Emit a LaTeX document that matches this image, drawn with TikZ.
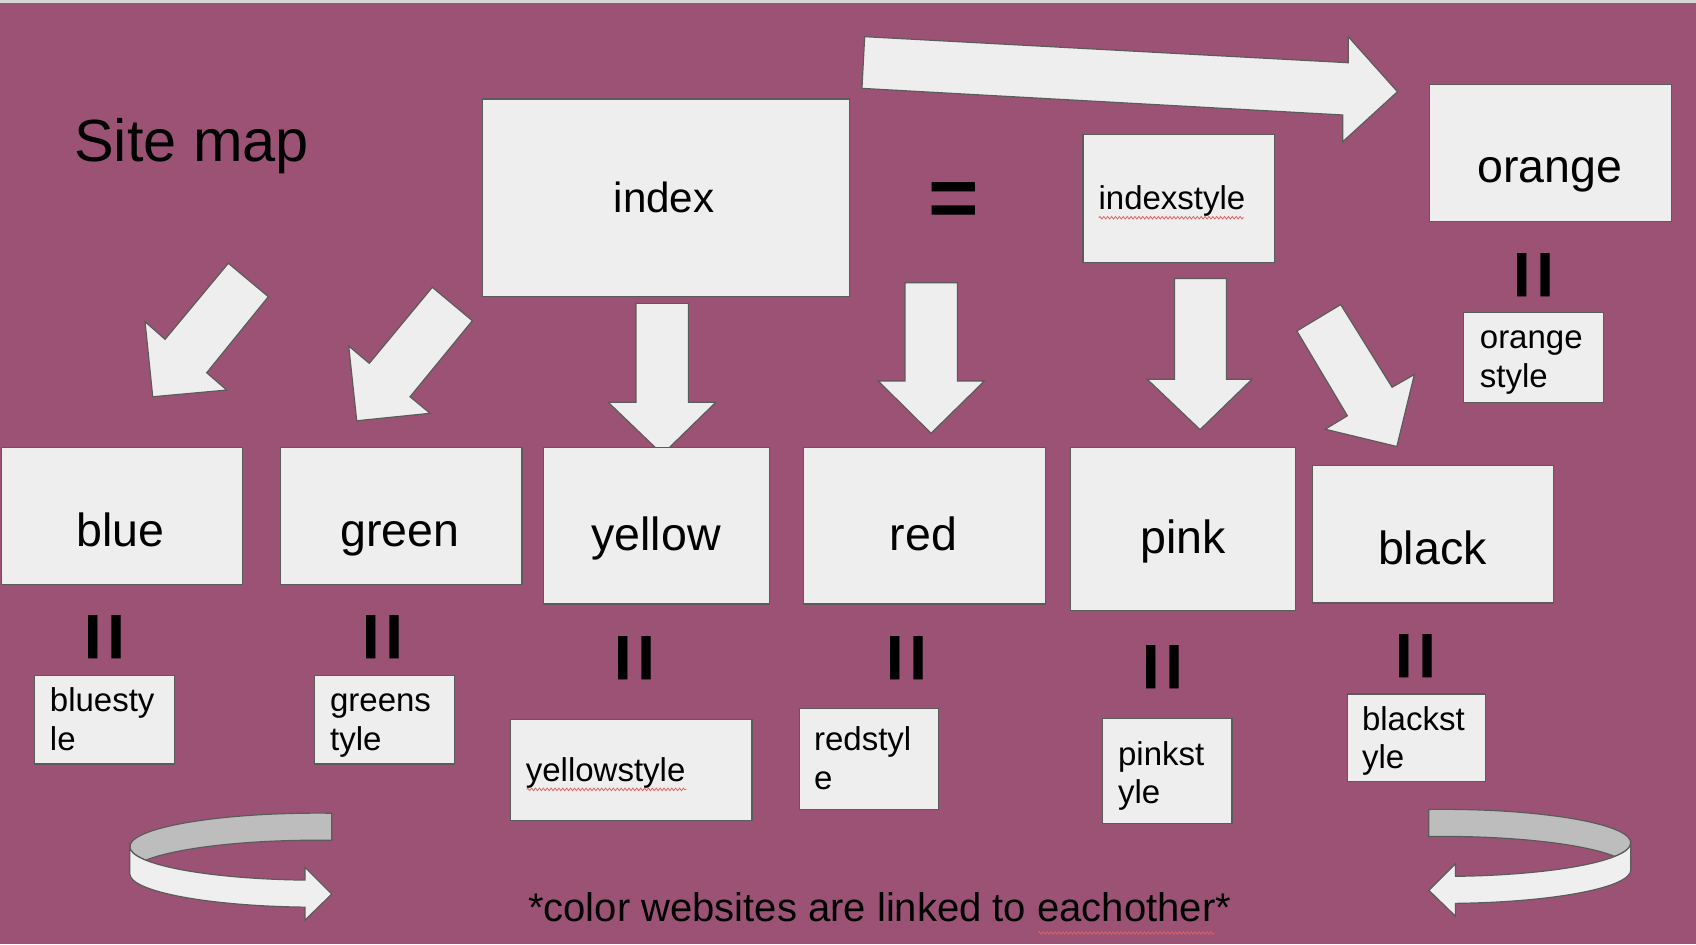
\documentclass[tikz,border=0pt]{standalone}
\usepackage{fontspec}
\setmainfont{Liberation Sans}
\usetikzlibrary{decorations.pathmorphing}
\definecolor{bg}{HTML}{9C5275}
\definecolor{boxfill}{HTML}{EEEEEE}
\definecolor{edge}{HTML}{5B5B5B}
\definecolor{ringbackc}{HTML}{BDBDBD}
\definecolor{ringfrontc}{HTML}{EFEFEF}
\definecolor{topstrip}{HTML}{D6D6D6}
\definecolor{spell}{HTML}{E06060}
\newcommand\myringarrow{%
  \draw[ringback] (12.74,-30.92) arc[start angle=274.2, end angle=156.2, x radius=174, y radius=31]
     arc[start angle=203.8, end angle=274.2, x radius=174, y radius=31] -- cycle;
  \draw[ringfront] (-174,0) arc[start angle=180, end angle=93.95, x radius=174, y radius=31]
     -- (-12,19.2) -- (12.7,43.85) -- (-12,67.85) -- (-12,55.93)
     arc[start angle=93.95, end angle=180, x radius=174, y radius=31] -- cycle;}
\begin{document}
\begin{tikzpicture}[x=1pt,y=-1pt,
  box/.style={draw=edge, fill=boxfill, line width=1.1pt, inner sep=0pt, anchor=north west},
  big/.style={font=\fontsize{43}{43}\selectfont, inner sep=0pt, anchor=base},
  small/.style={font=\fontsize{30.5}{35.5}\selectfont, inner sep=0pt, anchor=base west},
  eqsign/.style={font=\fontsize{80}{80}\selectfont\bfseries, inner sep=0pt, anchor=north},
  blockarrow/.style={draw=edge, fill=boxfill, line width=1.1pt, line join=miter},
  ringback/.style={draw=edge, fill=ringbackc, line width=1.1pt},
  ringfront/.style={draw=edge, fill=ringfrontc, line width=1.1pt},
  spellmark/.style={draw=spell, line width=0.7pt, decorate, decoration={zigzag, amplitude=1.2pt, segment length=3.6pt}},
]
\useasboundingbox (0,0) rectangle (1568,873);
\fill[bg] (0,0) rectangle (1568,873);
\fill[topstrip] (0,0) rectangle (1568,2.5);

% title
\node[font=\fontsize{55}{55}\selectfont, inner sep=0pt, anchor=base west] (title) at (68.5,149.5) {Site map};

% block arrows
\draw[blockarrow] (799.4,33.9) -- (1246.5,58) -- (1246.5,33.9) -- (1292,84.8) -- (1241.4,131) -- (1241.4,106.3) -- (796.9,81.7) -- cycle;
\draw[blockarrow] (211.1,243.4) -- (248.1,274.3) -- (191.1,344.6) -- (209.6,360.6) -- (141.2,366.8) -- (134.1,297.4) -- (152.6,313.7) -- cycle;
\draw[blockarrow] (399.7,265.6) -- (436.7,296.5) -- (379.1,366.8) -- (397.6,382.1) -- (329.8,389) -- (322.4,319.9) -- (341.4,335.9) -- cycle;
\draw[blockarrow] (588,280.5) -- (636.4,280.5) -- (636.4,372) -- (661.7,372) -- (612.4,420) -- (562.4,372) -- (588,372) -- cycle;
\draw[blockarrow] (836.7,261.4) -- (885.1,261.4) -- (885.1,352.3) -- (910,352.3) -- (860.8,400.6) -- (812,352.3) -- (836.7,352.3) -- cycle;
\draw[blockarrow] (1085.8,257.5) -- (1133.8,257.5) -- (1133.8,350.6) -- (1157.5,350.6) -- (1109.5,397.2) -- (1060.6,350.6) -- (1085.8,350.6) -- cycle;
\draw[blockarrow] (1199,306) -- (1239.5,281.6) -- (1287,358) -- (1307.6,346.3) -- (1291.4,412.8) -- (1225.2,396.8) -- (1245.7,384.4) -- cycle;

% main boxes
\node[box, minimum width=339.3, minimum height=182.5] (index) at (445.9,90.9) {};
\node[box, minimum width=223.4, minimum height=126.6] (orange) at (1321.2,77.7) {};
\node[box, minimum width=177.2, minimum height=118] (indexstyle) at (1000.7,123.9) {};
\node[box, minimum width=129.5, minimum height=82.5] (orangestyle) at (1352.4,288.7) {};
\node[box, minimum width=223, minimum height=127] (blue) at (0.5,413) {};
\node[box, minimum width=223.6, minimum height=127] (green) at (258.5,413) {};
\node[box, minimum width=208.8, minimum height=144.8] (yellow) at (502.2,413) {};
\node[box, minimum width=223.3, minimum height=144.8] (red) at (742.5,413) {};
\node[box, minimum width=207.5, minimum height=150] (pink) at (989.5,413.5) {};
\node[box, minimum width=223.1, minimum height=127] (black) at (1212.6,429.9) {};
\node[box, minimum width=129.4, minimum height=81.6] (bluestyle) at (31.4,624.1) {};
\node[box, minimum width=129.5, minimum height=81.6] (greenstyle) at (289.9,624.1) {};
\node[box, minimum width=223.6, minimum height=93] (yellowstyle) at (471.1,665) {};
\node[box, minimum width=129.1, minimum height=93.4] (redstyle) at (738.3,654.3) {};
\node[box, minimum width=119.5, minimum height=97] (pinkstyle) at (1019,664) {};
\node[box, minimum width=127.5, minimum height=81] (blackstyle) at (1245,641) {};

% labels
\node[big, font=\fontsize{39}{39}\selectfont] (index-t) at (614,196.7) {index};
\node[big] (orange-t) at (1432.8,168.9) {orange};
\node[big] (blue-t) at (111.4,504.8) {blue};
\node[big] (green-t) at (369.9,504.8) {green};
\node[big] (yellow-t) at (606.6,509.1) {yellow};
\node[big] (red-t) at (853.7,509.1) {red};
\node[big] (pink-t) at (1094,511.7) {pink};
\node[big] (black-t) at (1324.2,521.6) {black};

\node[small] (indexstyle-t) at (1015.5,193.5) {indexstyle};
\node[small] (orangestyle-t) at (1368,322.5) {\vtop{\hbox{orange}\hbox{style}}};
\node[small] (bluestyle-t) at (46,658) {\vtop{\hbox{bluesty}\hbox{le}}};
\node[small] (greenstyle-t) at (305,658) {\vtop{\hbox{greens}\hbox{tyle}}};
\node[small] (yellowstyle-t) at (486,722.7) {yellowstyle};
\node[small] (redstyle-t) at (752.5,694) {\vtop{\hbox{redstyl}\hbox{e}}};
\node[small] (pinkstyle-t) at (1033.5,707.3) {\vtop{\hbox{pinkst}\hbox{yle}}};
\node[small] (blackstyle-t) at (1259,675.3) {\vtop{\hbox{blackst}\hbox{yle}}};

% equal signs
\node[eqsign] (eq-index) at (882.2,168.8) {=};
\node[eqsign, rotate=90] (eq-blue) at (81.4,589.1) {=};
\node[eqsign, rotate=90] (eq-green) at (339,589.1) {=};
\node[eqsign, rotate=90] (eq-yellow) at (572,609) {=};
\node[eqsign, rotate=90] (eq-red) at (823.4,609) {=};
\node[eqsign, rotate=90] (eq-pink) at (1059.3,616.6) {=};
\node[eqsign, rotate=90] (eq-black) at (1293.6,606.8) {=};
\node[eqsign, rotate=90] (eq-orange) at (1402.4,254.4) {=};

% spelling marks
\coordinate (sp1a) at (1016,201.3); \coordinate (sp1b) at (1150,201.3);
\coordinate (sp2a) at (487,729.8); \coordinate (sp2b) at (634.5,729.8);
\coordinate (sp3a) at (960,862.5); \coordinate (sp3b) at (1123,862.5);
\draw[spellmark] (sp1a) -- (sp1b);
\draw[spellmark] (sp2a) -- (sp2b);
\draw[spellmark] (sp3a) -- (sp3b);

% ring arrows
\begin{scope}[shift={(294,782.75)}]
  \myringarrow
\end{scope}
\begin{scope}[shift={(1333.7,779.25)}, xscale=-1]
  \myringarrow
\end{scope}

% footer
\node[font=\fontsize{37}{37}\selectfont, inner sep=0pt, anchor=base west] (footer) at (488,852) {*color websites are linked to eachother*};
\end{tikzpicture}
\end{document}
